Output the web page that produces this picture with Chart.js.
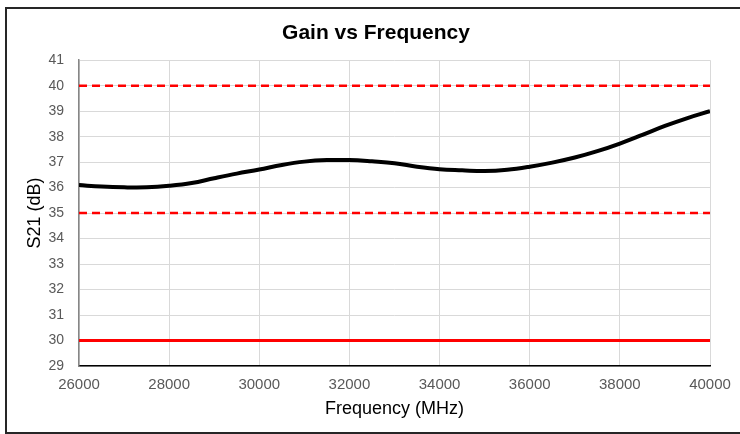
<!DOCTYPE html>
<html>
<head>
<meta charset="utf-8">
<script src="https://cdn.jsdelivr.net/npm/chart.js@4.4.1/dist/chart.umd.min.js"></script>
<style>
  html, body { margin: 0; padding: 0; background: #fff; overflow: hidden; }
  #wrap { position: absolute; left: 6px; top: 8px; width: 740px; height: 426px; }
  #frame { position: absolute; left: 5px; top: 7px; width: 760px; height: 423px; border: 2px solid #262626; border-right: none; pointer-events: none; }
</style>
</head>
<body>
<div id="wrap"><canvas id="myChart" width="740" height="426"></canvas></div>
<div id="frame"></div>
<script>
// frecuencias medidas (MHz) y ganancia S21 (dB)
const freqs = [26000, 26500, 27000, 27500, 28000, 28500, 29000, 29500, 30000, 30500,
  31000, 31500, 32000, 32500, 33000, 33500, 34000, 34500, 35000, 35500,
  36000, 36500, 37000, 37500, 38000, 38500, 39000, 39500, 40000];
const s21 = [36.10, 36.04, 36.01, 36.01, 36.07, 36.18, 36.37, 36.55, 36.71, 36.89,
  37.02, 37.08, 37.08, 37.03, 36.96, 36.82, 36.72, 36.68, 36.65, 36.70,
  36.82, 36.98, 37.18, 37.43, 37.73, 38.07, 38.42, 38.73, 39.00];

// limites
const limitX = [26000, 40000];
const upperLimit = [40, 40];
const typLimit = [35, 35];
const lowerLimit = [30, 30];

const xTicks = [26000, 28000, 30000, 32000, 34000, 36000, 38000, 40000];
const yMin = 29;
const yMax = 41;

const toPoints = (xs, ys) => xs.map((x, i) => ({ x: x, y: ys[i] }));

const datasets = [
  {
    label: 'S21',
    data: toPoints(freqs, s21),
    borderColor: '#000000',
    borderWidth: 4,
    tension: 0.4,
    pointRadius: 0,
  },
  {
    label: 'max',
    data: toPoints(limitX, upperLimit),
    borderColor: '#ff0000',
    borderWidth: 2.5,
    borderDash: [8, 5],
    pointRadius: 0,
  },
  {
    label: 'mid',
    data: toPoints(limitX, typLimit),
    borderColor: '#ff0000',
    borderWidth: 2.5,
    borderDash: [8, 5],
    pointRadius: 0,
  },
  {
    label: 'min',
    data: toPoints(limitX, lowerLimit),
    borderColor: '#ff0000',
    borderWidth: 3,
    pointRadius: 0,
  },
];

const fuente = 'Liberation Sans, Arial, sans-serif';

const config = {
  type: 'line',
  data: { datasets },
  options: {
    responsive: false,
    animation: false,
    layout: { padding: { left: 18, right: 18, top: 0, bottom: 14 } },
    plugins: {
      legend: { display: false },
      tooltip: { enabled: false },
      title: {
        display: true,
        text: 'Gain vs Frequency',
        color: '#000',
        font: { family: fuente, size: 21, weight: 'bold' },
        padding: { top: 13, bottom: 14 },
      },
    },
    scales: {
      x: {
        type: 'linear',
        min: 26000,
        max: 40000,
        afterBuildTicks: (scale) => { scale.ticks = xTicks.map(v => ({ value: v })); },
        afterFit: (scale) => { scale.height = 54; },
        grid: { color: '#d9d9d9', drawTicks: false },
        border: { color: '#000', width: 1.5 },
        ticks: {
          color: '#595959',
          padding: 10,
          font: { family: fuente, size: 15 },
          callback: (v) => String(v),
        },
        title: {
          display: true,
          text: 'Frequency (MHz)',
          color: '#000',
          padding: { top: 4, bottom: 0 },
          font: { family: fuente, size: 18 },
        },
      },
      y: {
        min: yMin,
        max: yMax,
        afterFit: (scale) => { scale.width = 55; },
        grid: { color: '#d9d9d9', drawTicks: false },
        border: { color: '#868686', width: 1.5 },
        ticks: {
          stepSize: 1,
          color: '#595959',
          padding: 15,
          font: { family: fuente, size: 14 },
        },
        title: {
          display: true,
          text: 'S21 (dB)',
          color: '#000',
          padding: { top: 0, bottom: 0 },
          font: { family: fuente, size: 18 },
        },
      },
      // eje vacio a la derecha, solo para reservar espacio
      y2: {
        position: 'right',
        display: true,
        afterFit: (scale) => { scale.width = 18; },
        grid: { display: false },
        border: { display: false },
        ticks: { display: false },
      },
    },
  },
};

const myChart = document.getElementById('myChart');
let grafico = new Chart(myChart, config);
</script>
</body>
</html>
